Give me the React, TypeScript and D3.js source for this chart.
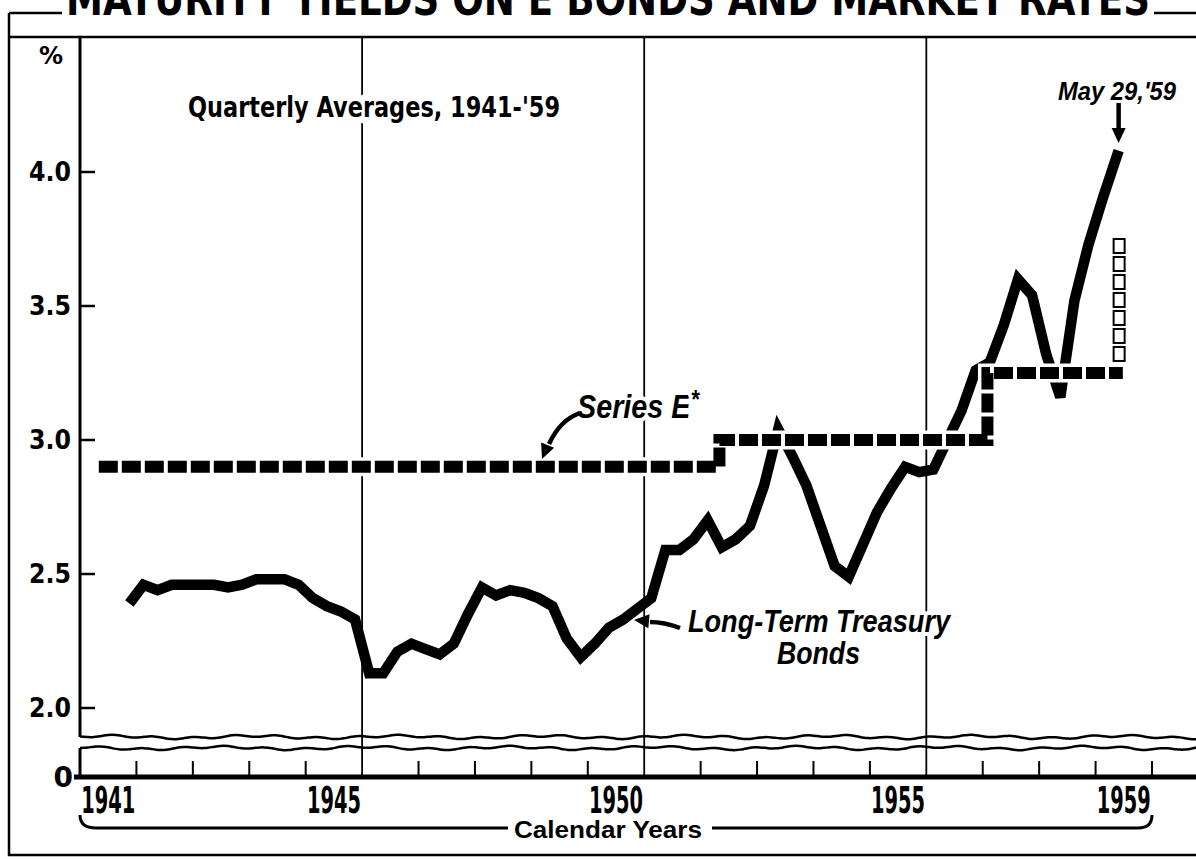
import React, { useEffect, useRef } from 'react'
import * as d3 from 'd3'

// chart data
const yearLabels = ['1941', '1945', '1950', '1955', '1959']
const yTicks = [2.0, 2.5, 3.0, 3.5, 4.0]
const gridYears = [1946, 1951, 1956]

const treasuryQuarters = [
  '1941-Q4',
  '1942-Q1', '1942-Q2', '1942-Q3', '1942-Q4',
  '1943-Q1', '1943-Q2', '1943-Q3', '1943-Q4',
  '1944-Q1', '1944-Q2', '1944-Q3', '1944-Q4',
  '1945-Q1', '1945-Q2', '1945-Q3', '1945-Q4',
  '1946-Q1', '1946-Q2', '1946-Q3', '1946-Q4',
  '1947-Q1', '1947-Q2', '1947-Q3', '1947-Q4',
  '1948-Q1', '1948-Q2', '1948-Q3', '1948-Q4',
  '1949-Q1', '1949-Q2', '1949-Q3', '1949-Q4',
  '1950-Q1', '1950-Q2', '1950-Q3', '1950-Q4',
  '1951-Q1', '1951-Q2', '1951-Q3', '1951-Q4',
  '1952-Q1', '1952-Q2', '1952-Q3', '1952-Q4',
  '1953-Q1', '1953-Q2', '1953-Q3', '1953-Q4',
  '1954-Q1', '1954-Q2', '1954-Q3', '1954-Q4',
  '1955-Q1', '1955-Q2', '1955-Q3', '1955-Q4',
  '1956-Q1', '1956-Q2', '1956-Q3', '1956-Q4',
  '1957-Q1', '1957-Q2', '1957-Q3', '1957-Q4',
  '1958-Q1', '1958-Q2', '1958-Q3', '1958-Q4',
  '1959-Q1',
]
const treasuryYields = [
  2.39,
  2.46, 2.44, 2.46, 2.46,
  2.46, 2.46, 2.45, 2.46,
  2.48, 2.48, 2.48, 2.46,
  2.41, 2.38, 2.36, 2.33,
  2.13, 2.13, 2.21, 2.24,
  2.22, 2.20, 2.24, 2.35,
  2.45, 2.42, 2.44, 2.43,
  2.41, 2.38, 2.26, 2.19,
  2.24, 2.30, 2.33, 2.37,
  2.41, 2.59, 2.59, 2.63,
  2.70, 2.60, 2.63, 2.68,
  2.83, 3.04, 2.94, 2.83,
  2.68, 2.53, 2.49, 2.61,
  2.73, 2.82, 2.90, 2.88,
  2.89, 3.00, 3.11, 3.26,
  3.29, 3.43, 3.60, 3.54,
  3.32, 3.16, 3.52, 3.73,
  3.90,
]
const lastQuoteDate = '1959-05-29'
const lastQuoteYield = 4.08

const seriesEDates = ['1941-05-01', '1952-05-01', '1957-02-01', '1959-06-25']
const seriesERates = [2.9, 3.0, 3.25, 3.25]

const proposedDate = '1959-05-29'
const proposedFrom = 3.28
const proposedTo = 3.75

const toYear = (s: string) => {
  if (s.includes('Q')) {
    const [yr, q] = s.split('-Q')
    return +yr + (+q - 0.5) / 4
  }
  const [yr, m, d] = s.split('-').map(Number)
  const days = new Date(yr, m, 0).getDate()
  return yr + (m - 1 + (d - 1) / days) / 12
}

const narrow = '"Liberation Sans Narrow", "Arial Narrow", "Liberation Sans", sans-serif'
const wide = '"DejaVu Sans", "Liberation Sans", sans-serif'

const App = () => {
  const ref = useRef(null)

  useEffect(() => {
    const width = 1196
    const height = 859
    const baseY = 777
    const breakTop = 737
    const breakBot = 748

    const svg = d3.select(ref.current)
    svg.selectAll('*').remove()

    const x = d3.scaleLinear().domain([1941, 1960]).range([80, 1152])
    const y = d3.scaleLinear().domain([2, 4]).range([708, 172])

    svg.append('rect').attr('width', width).attr('height', height).attr('fill', 'white')

    // frame
    svg
      .append('path')
      .attr('d', `M9,13 H62 M9,13 V855 H${width} M9,37 H${width} M1154,13 H${width}`)
      .attr('stroke', 'black')
      .attr('stroke-width', 2.5)
      .attr('fill', 'none')

    svg
      .append('text')
      .attr('x', 66)
      .attr('y', 15)
      .attr('textLength', 1084)
      .attr('lengthAdjust', 'spacingAndGlyphs')
      .style('font-family', wide)
      .style('font-weight', 'bold')
      .style('font-size', '46px')
      .text('MATURITY YIELDS ON E BONDS AND MARKET RATES')

    // vertical grid lines
    svg
      .selectAll('line.grid')
      .data(gridYears)
      .enter()
      .append('line')
      .attr('class', 'grid')
      .attr('x1', (d) => x(d))
      .attr('x2', (d) => x(d))
      .attr('y1', 37)
      .attr('y2', baseY)
      .attr('stroke', 'black')
      .attr('stroke-width', 1.8)

    // y axis with break
    svg
      .append('path')
      .attr('d', `M${x(1941)},37 V${breakTop} M${x(1941)},${breakBot} V${baseY}`)
      .attr('stroke', 'black')
      .attr('stroke-width', 3)

    svg
      .selectAll('line.ytick')
      .data(yTicks)
      .enter()
      .append('line')
      .attr('x1', x(1941))
      .attr('x2', x(1941) + 15)
      .attr('y1', (d) => y(d))
      .attr('y2', (d) => y(d))
      .attr('stroke', 'black')
      .attr('stroke-width', 2.5)

    svg
      .selectAll('text.ylab')
      .data(yTicks)
      .enter()
      .append('text')
      .attr('x', 71)
      .attr('y', (d) => y(d) + 9)
      .attr('text-anchor', 'end')
      .attr('textLength', 42)
      .attr('lengthAdjust', 'spacingAndGlyphs')
      .style('font-family', wide)
      .style('font-weight', 'bold')
      .style('font-size', '26px')
      .text((d) => d.toFixed(1))

    svg
      .append('text')
      .attr('x', 73)
      .attr('y', baseY + 10)
      .attr('text-anchor', 'end')
      .style('font-family', wide)
      .style('font-weight', 'bold')
      .style('font-size', '28px')
      .text('0')

    svg
      .append('text')
      .attr('x', 39)
      .attr('y', 64)
      .style('font-family', wide)
      .style('font-weight', 'bold')
      .style('font-size', '24px')
      .text('%')

    // wavy break lines
    const wave = (y0: number, ph: number) =>
      d3.line().curve(d3.curveBasis)(
        d3.range(x(1941), width + 6, 4).map((px) => [
          px,
          y0 + 1.1 * Math.sin((px + ph) / 6.5) + 1.2 * Math.sin((px + ph * 3) / 23),
        ])
      )
    svg
      .selectAll('path.wave')
      .data([
        [breakTop, 0],
        [breakBot, 11],
      ])
      .enter()
      .append('path')
      .attr('d', (d) => wave(d[0], d[1]))
      .attr('fill', 'none')
      .attr('stroke', 'black')
      .attr('stroke-width', 2.5)

    // x axis
    svg
      .append('line')
      .attr('x1', x(1941) - 6)
      .attr('x2', width)
      .attr('y1', baseY)
      .attr('y2', baseY)
      .attr('stroke', 'black')
      .attr('stroke-width', 5)

    svg
      .selectAll('line.xtick')
      .data(d3.range(1942, 1961).filter((d) => !gridYears.includes(d)))
      .enter()
      .append('line')
      .attr('x1', (d) => x(d))
      .attr('x2', (d) => x(d))
      .attr('y1', baseY - 16)
      .attr('y2', baseY)
      .attr('stroke', 'black')
      .attr('stroke-width', 2)

    svg
      .selectAll('text.year')
      .data(yearLabels)
      .enter()
      .append('text')
      .attr('x', (d) => x(+d + 0.5) - 27)
      .attr('y', 813)
      .attr('textLength', 54)
      .attr('lengthAdjust', 'spacingAndGlyphs')
      .style('font-family', wide)
      .style('font-weight', 'bold')
      .style('font-size', '38px')
      .text((d) => d)

    // bracket + calendar years
    svg
      .append('path')
      .attr(
        'd',
        `M${x(1941)},815 Q${x(1941)},828 ${x(1941) + 16},828 H508 M712,828 H${x(1960) - 14} Q${x(1960)},828 ${x(1960)},815`
      )
      .attr('fill', 'none')
      .attr('stroke', 'black')
      .attr('stroke-width', 3)

    svg
      .append('text')
      .attr('x', 514)
      .attr('y', 838)
      .attr('textLength', 188)
      .attr('lengthAdjust', 'spacingAndGlyphs')
      .style('font-family', narrow)
      .style('font-weight', 'bold')
      .style('font-size', '23px')
      .text('Calendar Years')

    const halo = (sel: any, w = 8) =>
      sel.attr('stroke', 'white').attr('stroke-width', w).attr('paint-order', 'stroke').attr('stroke-linejoin', 'round')

    svg
      .append('text')
      .attr('x', 188)
      .attr('y', 117)
      .attr('textLength', 372)
      .attr('lengthAdjust', 'spacingAndGlyphs')
      .style('font-family', wide)
      .style('font-weight', 'bold')
      .style('font-size', '28px')
      .call(halo, 14)
      .text("Quarterly Averages, 1941-'59")

    // long-term treasury bonds
    const tPoints: [number, number][] = treasuryQuarters.map((q, i) => [toYear(q), treasuryYields[i]])
    tPoints.push([toYear(lastQuoteDate), lastQuoteYield])
    const line = d3
      .line()
      .x((d) => x(d[0]))
      .y((d) => y(d[1]))

    svg
      .append('path')
      .attr('d', line(tPoints))
      .attr('fill', 'none')
      .attr('stroke', 'black')
      .attr('stroke-width', 10.5)
      .attr('stroke-linejoin', 'miter')
      .attr('stroke-miterlimit', 3)

    // series E step line
    const ePoints: [number, number][] = seriesEDates.map((d, i) => [toYear(d), seriesERates[i]])
    const stepLine = d3
      .line()
      .x((d) => x(d[0]))
      .y((d) => y(d[1]))
      .curve(d3.curveStepAfter)

    svg
      .append('path')
      .attr('d', stepLine(ePoints))
      .attr('fill', 'none')
      .attr('stroke', 'white')
      .attr('stroke-width', 19)

    svg
      .append('path')
      .attr('d', stepLine(ePoints))
      .attr('fill', 'none')
      .attr('stroke', 'black')
      .attr('stroke-width', 12)
      .attr('stroke-dasharray', '19 4')

    // proposed rate, hollow boxes
    const px = x(toYear(proposedDate))
    const boxTop = y(proposedTo)
    const boxBot = y(proposedFrom)
    const nBoxes = Math.round((boxBot - boxTop) / 19)
    const boxH = (boxBot - boxTop) / nBoxes
    svg
      .selectAll('rect.prop')
      .data(d3.range(nBoxes))
      .enter()
      .append('rect')
      .attr('x', px - 5)
      .attr('y', (i) => boxTop + i * boxH)
      .attr('width', 11)
      .attr('height', boxH - 4)
      .attr('fill', 'white')
      .attr('stroke', 'black')
      .attr('stroke-width', 2)

    // annotations
    const label = (txt: string, tx: number, ty: number, size: number, len: number) =>
      svg
        .append('text')
        .attr('x', tx)
        .attr('y', ty)
        .attr('textLength', len)
        .attr('lengthAdjust', 'spacingAndGlyphs')
        .style('font-family', narrow)
        .style('font-weight', 'bold')
        .style('font-style', 'italic')
        .style('font-size', `${size}px`)
        .call(halo, 8)
        .text(txt)

    const seriesLabel = label('Series E', 577, 418, 34, 122)
    seriesLabel.append('tspan').attr('dy', -10).style('font-size', '26px').text('*')
    label('Long-Term Treasury', 688, 632, 32, 262)
    label('Bonds', 777, 664, 31, 83)
    label("May 29,'59", 1058, 100, 25, 118)

    const arrows = [
      { d: 'M580,413 Q560,420 549,444', tip: [542, 459], ang: 112 },
      { d: 'M680,628 Q664,622 650,622', tip: [634, 620], ang: 185 },
      { d: `M${px},103 V130`, tip: [px, 143], ang: 90 },
    ]
    arrows.forEach((a) => {
      svg
        .append('path')
        .attr('d', a.d)
        .attr('fill', 'none')
        .attr('stroke', 'black')
        .attr('stroke-width', 4.5)
      svg
        .append('path')
        .attr('d', 'M0,0 L-15,-7 L-15,7 Z')
        .attr('transform', `translate(${a.tip[0]},${a.tip[1]}) rotate(${a.ang})`)
        .attr('fill', 'black')
    })
  }, [])

  return (
    <svg
      ref={ref}
      width={1196}
      height={859}
      style={{ position: 'absolute', left: 0, top: 0, display: 'block' }}
    />
  )
}

export default App
